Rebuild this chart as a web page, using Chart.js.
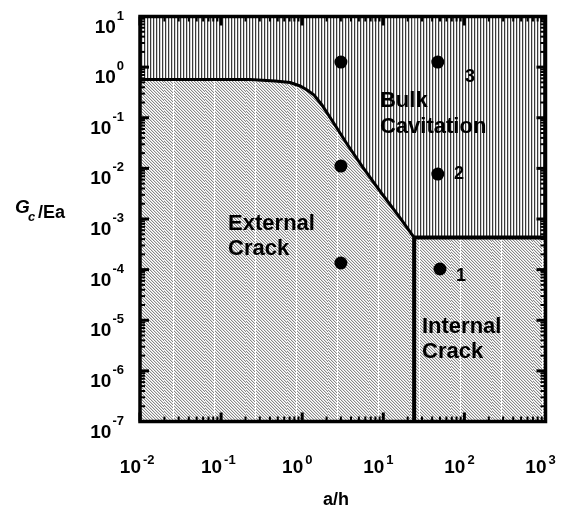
<!DOCTYPE html>
<html>
<head>
<meta charset="utf-8">
<script src="https://cdn.jsdelivr.net/npm/chart.js@4.4.1/dist/chart.umd.min.js"></script>
<style>
  html, body { margin: 0; padding: 0; background: #fff; }
  #wrap { width: 567px; height: 520px; }
</style>
</head>
<body>
<div id="wrap"><canvas id="grafico"></canvas></div>
<script>
// Frontera entre grieta externa y cavitación (a/h, Gc/Ea)
var fronteraX = [0.01, 0.227, 0.462, 0.708, 0.94, 1.15, 1.40, 1.75, 2.40, 3.57, 5.46, 9.1, 16.1, 24, 1000];
var fronteraY = [0.57, 0.57, 0.532, 0.497, 0.424, 0.353, 0.281, 0.179, 0.0824, 0.0303, 0.0111, 0.00357, 0.00105, 0.00043, 0.00043];

// Límite vertical de la grieta interna
var internaX = [24, 24];
var internaY = [0.00043, 1e-7];

// Ensayos
var puntosX = [3, 47, 3, 47, 3, 50];
var puntosY = [1.26, 1.26, 0.0111, 0.0077, 1.35e-4, 1.03e-4];

// Números de los ensayos
var numeros = ['3', '2', '1'];
var numerosX = [102, 74.5, 78.8];
var numerosY = [0.51, 0.0062, 6.0e-5];

// Nombres de las zonas
var zonas = [['Bulk', 'Cavitation'], ['External', 'Crack'], ['Internal', 'Crack']];
var zonasX = [9.1, 0.122, 30];
var zonasY = [0.163, 6.1e-4, 5.6e-6];

// Décadas de los ejes
var decadasX = [-2, -1, 0, 1, 2, 3];
var decadasY = [-7, -6, -5, -4, -3, -2, -1, 0, 1];

var fuente = "'Liberation Sans', Arial, sans-serif";

function aPuntos(xs, ys) {
    return xs.map(function(x, i) { return { x: x, y: ys[i] }; });
}

// Trama de líneas verticales
function tramaVertical() {
    var c = document.createElement('canvas');
    c.width = 3; c.height = 1;
    var g = c.getContext('2d');
    g.fillStyle = '#ffffff'; g.fillRect(0, 0, 3, 1);
    g.fillStyle = '#3a3a3a'; g.fillRect(0, 0, 1, 1);
    g.fillStyle = '#d0d0d0'; g.fillRect(1, 0, 1, 1);
    return g.createPattern(c, 'repeat');
}

// Trama diagonal, con una columna blanca cada 41 px
function tramaDiagonal() {
    var c = document.createElement('canvas');
    c.width = 41; c.height = 3;
    var g = c.getContext('2d');
    var img = g.createImageData(41, 3);
    for (var y = 0; y < 3; y++) {
        for (var x = 0; x < 41; x++) {
            var v = ((x - y) % 3 + 3) % 3;
            var gris = v === 0 ? 0x88 : (v === 1 ? 0xdc : 0xff);
            if (x === 9) gris = 0xff;
            var i = (y * 41 + x) * 4;
            img.data[i] = img.data[i + 1] = img.data[i + 2] = gris;
            img.data[i + 3] = 255;
        }
    }
    g.putImageData(img, 0, 0);
    return g.createPattern(c, 'repeat');
}

function linea(c, x1, y1, x2, y2) {
    c.beginPath(); c.moveTo(x1, y1); c.lineTo(x2, y2); c.stroke();
}

// Marco, marcas y textos
var marco = {
    id: 'marco',
    afterDatasetsDraw: function(chart) {
        var c = chart.ctx, a = chart.chartArea;
        var sx = chart.scales.x, sy = chart.scales.y;
        c.save();
        c.strokeStyle = '#000';
        c.lineCap = 'butt';
        decadasX.forEach(function(d, n) {
            for (var k = 1; k <= 9; k++) {
                if (n === decadasX.length - 1 && k > 1) break;
                var px = sx.getPixelForValue(k * Math.pow(10, d));
                var largo = k === 1 ? 9 : 5;
                c.lineWidth = k === 1 ? 3 : 2;
                linea(c, px, a.bottom, px, a.bottom - largo);
                linea(c, px, a.top, px, a.top + largo);
            }
        });
        decadasY.forEach(function(d, n) {
            for (var k = 1; k <= 9; k++) {
                if (n === decadasY.length - 1 && k > 1) break;
                var py = sy.getPixelForValue(k * Math.pow(10, d));
                var largo = k === 1 ? 9 : 5;
                c.lineWidth = k === 1 ? 3 : 2;
                linea(c, a.left, py, a.left + largo, py);
                linea(c, a.right, py, a.right - largo, py);
            }
        });
        c.lineWidth = 3.5;
        c.strokeRect(a.left, a.top, a.right - a.left, a.bottom - a.top);
        c.restore();
    },
    afterDraw: function(chart) {
        var c = chart.ctx, a = chart.chartArea;
        var sx = chart.scales.x, sy = chart.scales.y;
        c.save();
        c.fillStyle = '#000';
        c.textBaseline = 'alphabetic';

        // etiquetas del eje x
        decadasX.forEach(function(d) {
            var px = sx.getPixelForValue(Math.pow(10, d));
            c.font = 'bold 19px ' + fuente;
            c.textAlign = 'right';
            c.fillText('10', px + 1, a.bottom + 51);
            c.font = 'bold 13px ' + fuente;
            c.textAlign = 'left';
            c.fillText(String(d), px + 3, a.bottom + 42);
        });

        // etiquetas del eje y
        decadasY.forEach(function(d) {
            var py = sy.getPixelForValue(Math.pow(10, d));
            c.font = 'bold 13px ' + fuente;
            c.textAlign = 'right';
            c.fillText(String(d), 124, py + 3);
            var ancho = c.measureText(String(d)).width;
            c.font = 'bold 19px ' + fuente;
            c.fillText('10', 124 - ancho - 1, py + 16);
        });

        // títulos de los ejes
        c.textAlign = 'center';
        c.font = 'bold 18px ' + fuente;
        c.fillText('a/h', 336, 505);
        c.textAlign = 'left';
        c.font = 'italic bold 19px ' + fuente;
        c.fillText('G', 15, 213);
        c.font = 'italic bold 13px ' + fuente;
        c.fillText('c', 28, 221);
        c.font = 'bold 18px ' + fuente;
        c.fillText('/Ea', 38, 218);

        // nombres de las zonas
        c.font = 'bold 22px ' + fuente;
        zonas.forEach(function(z, i) {
            var px = sx.getPixelForValue(zonasX[i]);
            var py = sy.getPixelForValue(zonasY[i]);
            z.forEach(function(t, j) { c.fillText(t, px, py + j * 25.5); });
        });

        // números de los ensayos
        c.font = 'bold 18px ' + fuente;
        numeros.forEach(function(t, i) {
            c.fillText(t, sx.getPixelForValue(numerosX[i]), sy.getPixelForValue(numerosY[i]));
        });
        c.restore();
    }
};

var frontera = aPuntos(fronteraX, fronteraY);
var ultimo = fronteraX.length - 2;

var ctx = document.getElementById('grafico').getContext('2d');
var miGrafico = new Chart(ctx, {
    type: 'line',
    data: {
        datasets: [
            {
                // zona de cavitación (por encima de la frontera)
                data: frontera,
                fill: 'end',
                backgroundColor: tramaVertical(),
                borderColor: '#000',
                borderWidth: 3,
                pointRadius: 0,
                tension: 0,
                segment: {
                    borderWidth: function(s) { return s.p0DataIndex >= ultimo ? 4 : 3; }
                },
                order: 2
            },
            {
                // zona de grietas (por debajo de la frontera)
                data: frontera,
                fill: 'start',
                backgroundColor: tramaDiagonal(),
                borderColor: 'rgba(0,0,0,0)',
                borderWidth: 1,
                pointRadius: 0,
                tension: 0,
                order: 3
            },
            {
                data: aPuntos(internaX, internaY),
                fill: false,
                borderColor: '#000',
                borderWidth: 4,
                pointRadius: 0,
                order: 1
            },
            {
                data: aPuntos(puntosX, puntosY),
                showLine: false,
                fill: false,
                pointRadius: 6.5,
                pointBackgroundColor: '#000',
                pointBorderWidth: 0,
                order: 0
            }
        ]
    },
    options: {
        responsive: true,
        maintainAspectRatio: false,
        animation: false,
        layout: { padding: { left: 140, top: 16.5, right: 21.5, bottom: 98.5 } },
        plugins: {
            legend: { display: false },
            tooltip: { enabled: false }
        },
        scales: {
            x: { type: 'logarithmic', min: 0.01, max: 1000, display: false },
            y: { type: 'logarithmic', min: 1e-7, max: 10, display: false }
        }
    },
    plugins: [marco]
});
</script>
</body>
</html>
